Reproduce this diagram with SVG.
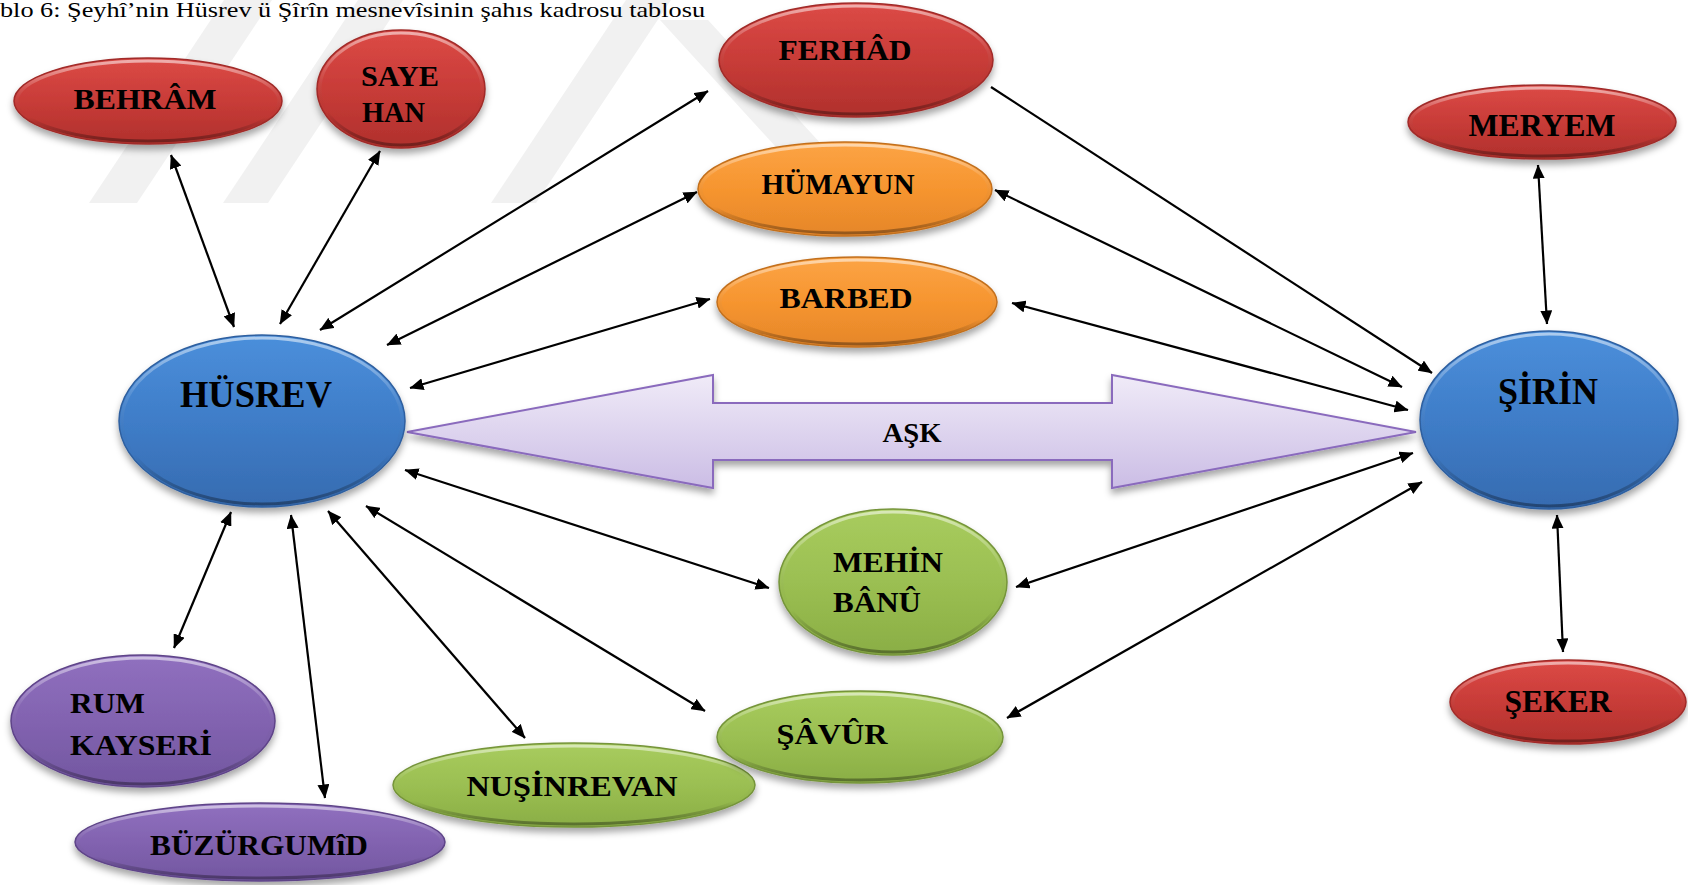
<svg xmlns="http://www.w3.org/2000/svg" width="1688" height="885" viewBox="0 0 1688 885">
<defs>
<style>
.lbl{font-family:"Liberation Serif","Times New Roman",serif;font-weight:bold;fill:#000;}
.mid{text-anchor:middle;}
.conn line{stroke:#000;stroke-width:2.2;fill:none;}
.wm{fill:#f1f1f1;}
</style>
<filter id="sh" x="-20%" y="-20%" width="140%" height="150%">
<feGaussianBlur in="SourceAlpha" stdDeviation="3.5"/>
<feOffset dx="0" dy="5" result="b"/>
<feFlood flood-color="#000" flood-opacity="0.35"/>
<feComposite in2="b" operator="in"/>
<feMerge><feMergeNode/><feMergeNode in="SourceGraphic"/></feMerge>
</filter>
<filter id="tsh" x="-10%" y="-20%" width="120%" height="150%">
<feGaussianBlur in="SourceAlpha" stdDeviation="1"/>
<feOffset dx="1" dy="1.5" result="b"/>
<feFlood flood-color="#000" flood-opacity="0.35"/>
<feComposite in2="b" operator="in"/>
<feMerge><feMergeNode/><feMergeNode in="SourceGraphic"/></feMerge>
</filter>
<linearGradient id="gRed" x1="0" y1="0" x2="0" y2="1">
<stop offset="0" stop-color="#dc4a46"/><stop offset="0.5" stop-color="#c83c38"/><stop offset="1" stop-color="#b0302c"/>
</linearGradient>
<linearGradient id="gOra" x1="0" y1="0" x2="0" y2="1">
<stop offset="0" stop-color="#fca446"/><stop offset="0.5" stop-color="#f6952f"/><stop offset="1" stop-color="#e5862a"/>
</linearGradient>
<linearGradient id="gBlu" x1="0" y1="0" x2="0" y2="1">
<stop offset="0" stop-color="#4b8fdb"/><stop offset="0.5" stop-color="#3f7dc8"/><stop offset="1" stop-color="#366bb0"/>
</linearGradient>
<linearGradient id="gGrn" x1="0" y1="0" x2="0" y2="1">
<stop offset="0" stop-color="#a8cc5e"/><stop offset="0.5" stop-color="#9bbf52"/><stop offset="1" stop-color="#8aae45"/>
</linearGradient>
<linearGradient id="gPur" x1="0" y1="0" x2="0" y2="1">
<stop offset="0" stop-color="#9070bf"/><stop offset="0.5" stop-color="#8263b0"/><stop offset="1" stop-color="#7256a0"/>
</linearGradient>
<linearGradient id="gAsk" x1="0" y1="0" x2="0" y2="1">
<stop offset="0" stop-color="#f0ebf8"/><stop offset="1" stop-color="#cbbde5"/>
</linearGradient>
<linearGradient id="rim" x1="0" y1="0" x2="0" y2="1">
<stop offset="0" stop-color="#fff" stop-opacity="0.55"/><stop offset="0.35" stop-color="#fff" stop-opacity="0.1"/><stop offset="0.7" stop-color="#000" stop-opacity="0"/><stop offset="1" stop-color="#000" stop-opacity="0.35"/>
</linearGradient>
<marker id="ah" viewBox="0 0 14 12" refX="13.5" refY="6" markerWidth="14" markerHeight="12" markerUnits="userSpaceOnUse" orient="auto-start-reverse">
<path d="M0,0 L14,6 L0,12 Z" fill="#000"/>
</marker>
</defs>
<rect width="1688" height="885" fill="#fff"/>
<g id="watermark">
<polygon class="wm" points="89,203 137,203 272,0 224,0"/>
<polygon class="wm" points="223,203 268,203 403,0 358,0"/>
<polygon class="wm" points="491,203 536,203 671,0 626,0"/>
<polygon class="wm" points="660,20 708,20 875,203 827,203"/>
</g>
<text x="0" y="17" font-family="Liberation Serif, Times New Roman, serif" font-size="21" textLength="705" lengthAdjust="spacingAndGlyphs" fill="#000">blo 6: Şeyhî’nin Hüsrev ü Şîrîn mesnevîsinin şahıs kadrosu tablosu</text>

<g id="ask">
<polygon points="407,432 713,375 713,403 1112,403 1112,375 1416,432 1112,488 1112,460 713,460 713,488" fill="url(#gAsk)" stroke="#8a6bbd" stroke-width="2" filter="url(#sh)"/>
<text class="lbl mid" x="912" y="442" font-size="27" textLength="59" lengthAdjust="spacingAndGlyphs">AŞK</text>
</g>

<g id="connectors" class="conn">
<line x1="171" y1="155" x2="234" y2="327" marker-start="url(#ah)" marker-end="url(#ah)"/>
<line x1="380" y1="151" x2="280" y2="324" marker-start="url(#ah)" marker-end="url(#ah)"/>
<line x1="708" y1="91" x2="320" y2="330" marker-start="url(#ah)" marker-end="url(#ah)"/>
<line x1="697" y1="192" x2="387" y2="345" marker-start="url(#ah)" marker-end="url(#ah)"/>
<line x1="710" y1="299" x2="410" y2="388" marker-start="url(#ah)" marker-end="url(#ah)"/>
<line x1="405" y1="470" x2="769" y2="588" marker-start="url(#ah)" marker-end="url(#ah)"/>
<line x1="366" y1="506" x2="705" y2="711" marker-start="url(#ah)" marker-end="url(#ah)"/>
<line x1="328" y1="511" x2="525" y2="738" marker-start="url(#ah)" marker-end="url(#ah)"/>
<line x1="291" y1="515" x2="325" y2="798" marker-start="url(#ah)" marker-end="url(#ah)"/>
<line x1="231" y1="512" x2="174" y2="648" marker-start="url(#ah)" marker-end="url(#ah)"/>
<line x1="991" y1="87" x2="1432" y2="373" marker-end="url(#ah)"/>
<line x1="995" y1="190" x2="1402" y2="387" marker-start="url(#ah)" marker-end="url(#ah)"/>
<line x1="1012" y1="303" x2="1408" y2="410" marker-start="url(#ah)" marker-end="url(#ah)"/>
<line x1="1016" y1="587" x2="1413" y2="453" marker-start="url(#ah)" marker-end="url(#ah)"/>
<line x1="1007" y1="718" x2="1422" y2="482" marker-start="url(#ah)" marker-end="url(#ah)"/>
<line x1="1538" y1="165" x2="1547" y2="324" marker-start="url(#ah)" marker-end="url(#ah)"/>
<line x1="1557" y1="515" x2="1563" y2="652" marker-start="url(#ah)" marker-end="url(#ah)"/>
</g>

<g id="behram">
<ellipse cx="148" cy="101" rx="134" ry="43" fill="url(#gRed)" stroke="#a02c29" stroke-width="1.5" filter="url(#sh)"/>
<ellipse cx="148" cy="101" rx="131" ry="40" fill="none" stroke="url(#rim)" stroke-width="3"/>
<text class="lbl mid" x="145" y="109" font-size="30" textLength="143" lengthAdjust="spacingAndGlyphs">BEHRÂM</text>
</g>
<g id="sayehan">
<ellipse cx="401" cy="89" rx="84" ry="59" fill="url(#gRed)" stroke="#a02c29" stroke-width="1.5" filter="url(#sh)"/>
<ellipse cx="401" cy="89" rx="81" ry="56" fill="none" stroke="url(#rim)" stroke-width="3"/>
<text class="lbl" x="361" y="86" font-size="29" textLength="78" lengthAdjust="spacingAndGlyphs">SAYE</text>
<text class="lbl" x="362" y="122" font-size="29" textLength="63" lengthAdjust="spacingAndGlyphs">HAN</text>
</g>
<g id="ferhad">
<ellipse cx="856" cy="60" rx="137" ry="57" fill="url(#gRed)" stroke="#a02c29" stroke-width="1.5" filter="url(#sh)"/>
<ellipse cx="856" cy="60" rx="134" ry="54" fill="none" stroke="url(#rim)" stroke-width="3"/>
<text class="lbl mid" x="845" y="60" font-size="30" textLength="133" lengthAdjust="spacingAndGlyphs">FERHÂD</text>
</g>
<g id="humayun">
<ellipse cx="845" cy="189" rx="147" ry="47" fill="url(#gOra)" stroke="#c2701f" stroke-width="1.5" filter="url(#sh)"/>
<ellipse cx="845" cy="189" rx="144" ry="44" fill="none" stroke="url(#rim)" stroke-width="3"/>
<text class="lbl mid" x="838" y="194" font-size="29" textLength="153" lengthAdjust="spacingAndGlyphs">HÜMAYUN</text>
</g>
<g id="barbed">
<ellipse cx="857" cy="302" rx="140" ry="45" fill="url(#gOra)" stroke="#c2701f" stroke-width="1.5" filter="url(#sh)"/>
<ellipse cx="857" cy="302" rx="137" ry="42" fill="none" stroke="url(#rim)" stroke-width="3"/>
<text class="lbl mid" x="846" y="308" font-size="30" textLength="133" lengthAdjust="spacingAndGlyphs">BARBED</text>
</g>
<g id="husrev">
<ellipse cx="262" cy="421" rx="143" ry="86" fill="url(#gBlu)" stroke="#2e5f9f" stroke-width="1.5" filter="url(#sh)"/>
<ellipse cx="262" cy="421" rx="140" ry="83" fill="none" stroke="url(#rim)" stroke-width="3"/>
<text class="lbl mid" x="256" y="407" font-size="38" textLength="152" lengthAdjust="spacingAndGlyphs">HÜSREV</text>
</g>
<g id="sirin">
<ellipse cx="1549" cy="420" rx="129" ry="89" fill="url(#gBlu)" stroke="#2e5f9f" stroke-width="1.5" filter="url(#sh)"/>
<ellipse cx="1549" cy="420" rx="126" ry="86" fill="none" stroke="url(#rim)" stroke-width="3"/>
<text class="lbl mid" x="1548" y="404" font-size="38" textLength="100" lengthAdjust="spacingAndGlyphs">ŞİRİN</text>
</g>
<g id="meryem">
<ellipse cx="1542" cy="122" rx="134" ry="37" fill="url(#gRed)" stroke="#a02c29" stroke-width="1.5" filter="url(#sh)"/>
<ellipse cx="1542" cy="122" rx="131" ry="34" fill="none" stroke="url(#rim)" stroke-width="3"/>
<text class="lbl mid" x="1542" y="136" font-size="31" textLength="147" lengthAdjust="spacingAndGlyphs">MERYEM</text>
</g>
<g id="seker">
<ellipse cx="1568" cy="702" rx="118" ry="42" fill="url(#gRed)" stroke="#a02c29" stroke-width="1.5" filter="url(#sh)"/>
<ellipse cx="1568" cy="702" rx="115" ry="39" fill="none" stroke="url(#rim)" stroke-width="3"/>
<text class="lbl mid" x="1558" y="712" font-size="31" textLength="107" lengthAdjust="spacingAndGlyphs">ŞEKER</text>
</g>
<g id="mehinbanu">
<ellipse cx="893" cy="582" rx="114" ry="73" fill="url(#gGrn)" stroke="#75943a" stroke-width="1.5" filter="url(#sh)"/>
<ellipse cx="893" cy="582" rx="111" ry="70" fill="none" stroke="url(#rim)" stroke-width="3"/>
<text class="lbl" x="833" y="572" font-size="30" textLength="110" lengthAdjust="spacingAndGlyphs">MEHİN</text>
<text class="lbl" x="833" y="612" font-size="30" textLength="88" lengthAdjust="spacingAndGlyphs">BÂNÛ</text>
</g>
<g id="nusinrevan">
<ellipse cx="574" cy="785" rx="181" ry="42" fill="url(#gGrn)" stroke="#75943a" stroke-width="1.5" filter="url(#sh)"/>
<ellipse cx="574" cy="785" rx="178" ry="39" fill="none" stroke="url(#rim)" stroke-width="3"/>
<text class="lbl mid" x="572" y="796" font-size="30" textLength="211" lengthAdjust="spacingAndGlyphs">NUŞİNREVAN</text>
</g>
<g id="savur">
<ellipse cx="860" cy="737" rx="143" ry="46" fill="url(#gGrn)" stroke="#75943a" stroke-width="1.5" filter="url(#sh)"/>
<ellipse cx="860" cy="737" rx="140" ry="43" fill="none" stroke="url(#rim)" stroke-width="3"/>
<text class="lbl mid" x="832" y="744" font-size="30" textLength="111" lengthAdjust="spacingAndGlyphs">ŞÂVÛR</text>
</g>
<g id="rumkayseri">
<ellipse cx="143" cy="721" rx="132" ry="66" fill="url(#gPur)" stroke="#5e4488" stroke-width="1.5" filter="url(#sh)"/>
<ellipse cx="143" cy="721" rx="129" ry="63" fill="none" stroke="url(#rim)" stroke-width="3"/>
<text class="lbl" x="70" y="713" font-size="30" textLength="75" lengthAdjust="spacingAndGlyphs">RUM</text>
<text class="lbl" x="70" y="755" font-size="30" textLength="142" lengthAdjust="spacingAndGlyphs">KAYSERİ</text>
</g>
<g id="buzurgumid">
<ellipse cx="260" cy="842" rx="185" ry="39" fill="url(#gPur)" stroke="#5e4488" stroke-width="1.5" filter="url(#sh)"/>
<ellipse cx="260" cy="842" rx="182" ry="36" fill="none" stroke="url(#rim)" stroke-width="3"/>
<text class="lbl mid" x="259" y="855" font-size="30" textLength="218" lengthAdjust="spacingAndGlyphs">BÜZÜRGUMîD</text>
</g>
</svg>
